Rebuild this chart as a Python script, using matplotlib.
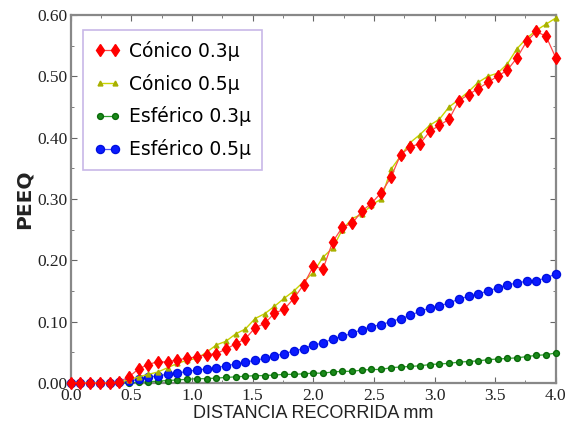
import numpy as np
import matplotlib
matplotlib.use("Agg")
import matplotlib.pyplot as plt
from matplotlib.ticker import MultipleLocator, FormatStrFormatter

x = np.round(np.arange(0, 51) * 0.08, 2)

conico_03 = [0, 0, 0, 0, 0, 0.002, 0.010, 0.023, 0.030, 0.035,
             0.034, 0.038, 0.040, 0.043, 0.046, 0.048, 0.055, 0.064, 0.072, 0.090,
             0.097, 0.114, 0.120, 0.138, 0.160, 0.190, 0.186, 0.230, 0.254, 0.260,
             0.280, 0.293, 0.310, 0.335, 0.372, 0.385, 0.390, 0.410, 0.420, 0.430,
             0.460, 0.470, 0.480, 0.490, 0.500, 0.510, 0.530, 0.557, 0.573, 0.565,
             0.530]
conico_05 = [0, 0, 0, 0, 0, 0.001, 0.005, 0.010, 0.014, 0.018,
             0.025, 0.032, 0.037, 0.040, 0.050, 0.062, 0.068, 0.080, 0.088, 0.105,
             0.113, 0.125, 0.138, 0.150, 0.165, 0.180, 0.205, 0.220, 0.250, 0.268,
             0.275, 0.290, 0.300, 0.348, 0.370, 0.392, 0.405, 0.420, 0.430, 0.450,
             0.462, 0.475, 0.490, 0.500, 0.505, 0.520, 0.545, 0.562, 0.575, 0.585,
             0.595]
esferico_03 = [0, 0, 0, 0, 0, 0, 0, 0.001, 0.002, 0.003,
               0.004, 0.005, 0.006, 0.007, 0.007, 0.008, 0.009, 0.010, 0.011, 0.012,
               0.012, 0.013, 0.014, 0.014, 0.015, 0.016, 0.016, 0.018, 0.019, 0.019,
               0.021, 0.022, 0.022, 0.025, 0.026, 0.027, 0.028, 0.030, 0.031, 0.032,
               0.034, 0.035, 0.036, 0.038, 0.039, 0.040, 0.041, 0.043, 0.045, 0.046,
               0.049]
esferico_05 = [0, 0, 0, 0, 0, 0.001, 0.003, 0.006, 0.009, 0.012,
               0.014, 0.016, 0.019, 0.021, 0.023, 0.025, 0.028, 0.031, 0.034, 0.037,
               0.040, 0.044, 0.048, 0.052, 0.056, 0.062, 0.065, 0.072, 0.076, 0.081,
               0.087, 0.092, 0.095, 0.100, 0.105, 0.110, 0.117, 0.122, 0.126, 0.130,
               0.137, 0.141, 0.145, 0.150, 0.155, 0.160, 0.163, 0.166, 0.167, 0.171,
               0.178]

labels = ["Cónico 0.3μ", "Cónico 0.5μ", "Esférico 0.3μ", "Esférico 0.5μ"]

fig = plt.figure(figsize=(5.66, 4.26), dpi=100)
ax = fig.add_axes([0.125, 0.101, 0.857, 0.864])

ax.plot(x, conico_03, color="#ff4848", lw=0.9, marker="d", ms=6.2, mfc="#ff0000",
        mec="#ff0000", label=labels[0], zorder=5, clip_on=False)
ax.plot(x, conico_05, color="#c8d400", lw=1.0, marker="^", ms=3.5, mfc="#a8b000",
        mec="#a8b000", label=labels[1], zorder=4, clip_on=False)
ax.plot(x, esferico_03, color="#30a030", lw=0.9, marker="o", ms=4.2, mfc="#1a8a1a",
        mec="#0a6a0a", label=labels[2], zorder=3, clip_on=False)
ax.plot(x, esferico_05, color="#5050ff", lw=0.9, marker="o", ms=5.8, mfc="#0a1aff",
        mec="#0010e0", label=labels[3], zorder=3, clip_on=False)

ax.set_xlim(0, 4.0)
ax.set_ylim(0, 0.6)
ax.xaxis.set_major_locator(MultipleLocator(0.5))
ax.xaxis.set_minor_locator(MultipleLocator(0.25))
ax.yaxis.set_major_locator(MultipleLocator(0.1))
ax.yaxis.set_minor_locator(MultipleLocator(0.05))
ax.xaxis.set_major_formatter(FormatStrFormatter("%.1f"))
ax.yaxis.set_major_formatter(FormatStrFormatter("%.2f"))
ax.tick_params(which="both", direction="in", top=True, right=True,
               color="#666666", labelcolor="#222222")
ax.tick_params(which="major", length=4, labelsize=12.5)
ax.tick_params(axis="y", which="major", pad=2)
ax.tick_params(axis="x", which="major", pad=3.5)
ax.tick_params(which="minor", length=2.5)
for lab in ax.get_xticklabels() + ax.get_yticklabels():
    lab.set_family("Liberation Serif")
for s in ax.spines.values():
    s.set_color("#888888")
    s.set_linewidth(1.6)

ax.set_xlabel("DISTANCIA RECORRIDA mm", fontsize=13, family="Liberation Sans",
              labelpad=1, color="#222222")
ax.set_ylabel("PEEQ", fontsize=14.5, family="DejaVu Sans", labelpad=3,
              color="#222222", fontweight="semibold")

leg = ax.legend(loc="upper left", bbox_to_anchor=(0.025, 0.96), fontsize=13.5,
                numpoints=2, handlelength=1.4, fancybox=False, framealpha=1,
                borderpad=0.6, labelspacing=0.68, handletextpad=0.45,
                borderaxespad=0)
leg.get_frame().set_edgecolor("#c8b8e8")
leg.get_frame().set_linewidth(1.2)

fig.savefig("out.png", dpi=100)
